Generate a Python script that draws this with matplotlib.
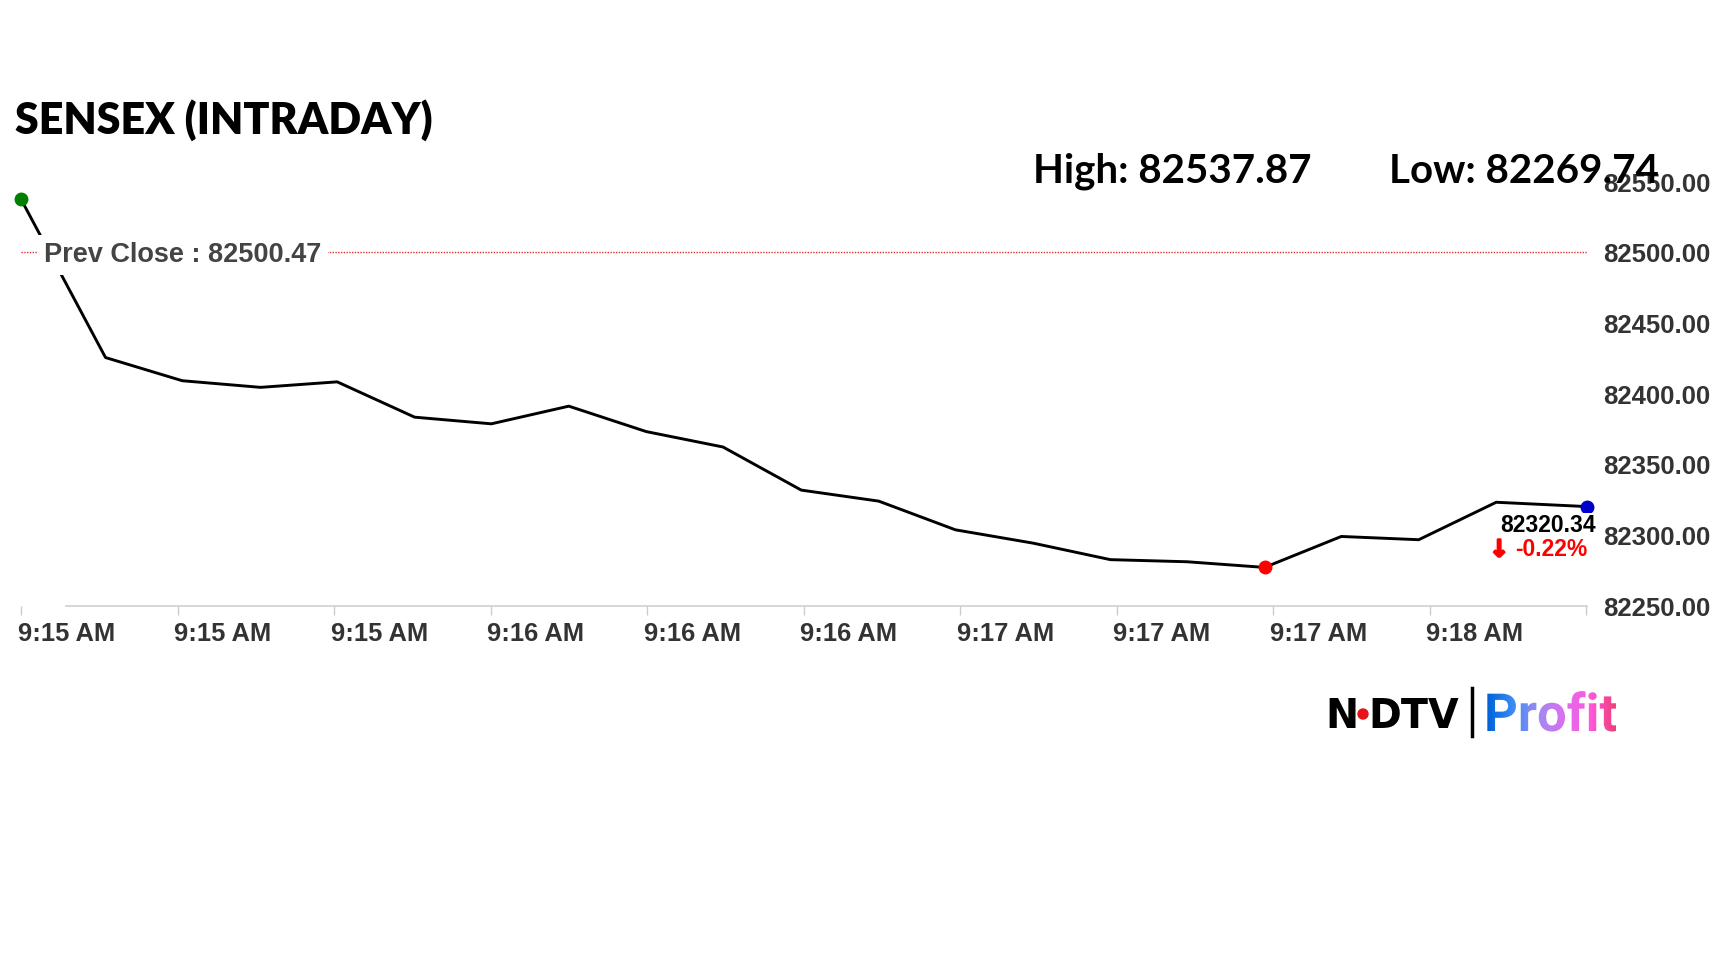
import numpy as np
import matplotlib
matplotlib.use('Agg')
import matplotlib.pyplot as plt
import matplotlib.transforms as mtransforms
import matplotlib.patheffects as pe
from matplotlib.textpath import TextPath
from matplotlib.patches import PathPatch, Circle
from matplotlib.font_manager import FontProperties
from matplotlib.colors import LinearSegmentedColormap

plt.rcParams['font.family'] = ['Liberation Sans', 'DejaVu Sans']

# seconds after 9:15:00 AM, and index level
secs = [0, 10.8, 20.6, 30.6, 40.4, 50.3, 60.1, 70.0, 79.9, 89.7, 99.7,
        109.6, 119.4, 129.3, 139.2, 149.0, 158.9, 168.7, 178.6, 188.5, 200.1]
values = [82537.87, 82425.8, 82409.4, 82404.7, 82408.6, 82383.6, 82378.9,
          82391.4, 82373.4, 82362.5, 82332.0, 82324.2, 82303.9, 82294.5,
          82282.8, 82281.3, 82277.3, 82299.2, 82296.9, 82323.4, 82320.34]
prev_close = 82500.47
day_high = 82537.87
day_low = 82269.74

tick_secs = [0, 20, 40, 60, 80, 100, 120, 140, 160, 180, 200]
tick_labels = ['9:15 AM', '9:15 AM', '9:15 AM', '9:16 AM', '9:16 AM', '9:16 AM',
               '9:17 AM', '9:17 AM', '9:17 AM', '9:18 AM', '']
y_ticks = [82250, 82300, 82350, 82400, 82450, 82500, 82550]

W, H = 1728, 972
fig = plt.figure(figsize=(W / 100, H / 100), dpi=100)
ax = fig.add_axes([21 / W, 1 - 606 / H, 1566 / W, 424 / H])

ax.plot(secs, values, color='black', lw=2.1, zorder=3)
ax.axhline(prev_close, color='#e03030', lw=1, linestyle=(0, (1, 1)), zorder=2)
blend = mtransforms.blended_transform_factory(ax.transAxes, ax.transData)
ax.annotate(f'Prev Close : {prev_close:.2f}', xy=(0.0145, prev_close),
            xycoords=blend, xytext=(0, -3), textcoords='offset pixels',
            fontsize=19.5, fontweight='bold', color='#444444', ha='left', va='center',
            bbox=dict(facecolor='white', edgecolor='none', pad=5), zorder=4)

imin = int(np.argmin(values))
ax.plot(secs[0], values[0], 'o', color='#008000', ms=9, zorder=5, clip_on=False)
ax.plot(secs[imin], values[imin], 'o', color='#ff0000', ms=9, zorder=5, clip_on=False)
ax.plot(secs[-1], values[-1], 'o', color='#0000cc', ms=9, zorder=5, clip_on=False)

pct = (values[-1] - prev_close) / prev_close * 100
ax.annotate(f'{values[-1]:.2f}', xy=(secs[-1], values[-1]), xytext=(9, -19),
            textcoords='offset pixels', ha='right', va='center', fontsize=16.5,
            fontweight='bold', color='black', annotation_clip=False, zorder=6,
            bbox=dict(facecolor='white', edgecolor='none', pad=1))
ax.annotate(f'{pct:.2f}%', xy=(secs[-1], values[-1]), xytext=(0, -43),
            textcoords='offset pixels', ha='right', va='center', fontsize=16.5,
            fontweight='bold', color='#ff0000', annotation_clip=False, zorder=6)
ax.annotate('\u2193', xy=(secs[-1], values[-1]), xytext=(-78, -43),
            textcoords='offset pixels', ha='right', va='center', fontsize=17,
            family='DejaVu Sans', fontweight='bold', color='#ff0000',
            annotation_clip=False, zorder=6,
            path_effects=[pe.withStroke(linewidth=1.6, foreground='#ff0000')])

ax.set_xlim(secs[0], secs[-1])
ax.set_ylim(82250, 82550)
for s in ax.spines.values():
    s.set_visible(False)
ax.axhline(82250, xmin=0.029, color='#d0d0d0', lw=1.2, clip_on=False, zorder=1)

ax.set_xticks(tick_secs, tick_labels)
ax.tick_params(axis='x', length=6.5, width=1, color='#cccccc', labelsize=18.4,
               labelcolor='#333333', pad=5)
shift = mtransforms.ScaledTranslation(-0.035, 0, fig.dpi_scale_trans)
for lab in ax.get_xticklabels():
    lab.set_fontweight('bold')
    lab.set_ha('left')
    lab.set_transform(lab.get_transform() + shift)

ax.yaxis.tick_right()
ax.set_yticks(y_ticks, [f'{v:.2f}' for v in y_ticks])
ax.tick_params(axis='y', length=0, labelsize=18.5, labelcolor='#333333', pad=11.5)
for lab in ax.get_yticklabels():
    lab.set_fontweight('bold')

# overlay in pixel coords for headings and logo
ov = fig.add_axes([0, 0, 1, 1], zorder=10)
ov.patch.set_alpha(0)
ov.axis('off')

ov.text(15, H - 134, 'SENSEX (INTRADAY)', family='Lato', weight='heavy',
        fontsize=31, ha='left', va='baseline', color='black')
ov.text(1033, H - 183, f'High: {day_high:.2f}', family='Lato', weight='bold',
        fontsize=29, ha='left', va='baseline', color='black')
ov.text(1389, H - 183, f'Low: {day_low:.2f}', family='Lato', weight='bold',
        fontsize=29, ha='left', va='baseline', color='black')

# NDTV | Profit logo
ov.text(1325, H - 728, 'N', family='DejaVu Sans', weight='bold', fontsize=28.5,
        ha='left', va='baseline', color='black')
ov.add_patch(Circle((1363, H - 714), 5, color='#e8121a', zorder=12))
ov.text(1368, H - 728, 'DTV', family='DejaVu Sans', weight='bold', fontsize=28.5,
        ha='left', va='baseline', color='black')
ov.plot([1472, 1472], [H - 688, H - 736], color='black', lw=2.5)

tp = TextPath((1484, H - 731), 'Profit', size=52.5,
              prop=FontProperties(family='Roboto', weight='bold'))
patch = PathPatch(tp, facecolor='none', edgecolor='none')
ov.add_patch(patch)
bb = tp.get_extents()
cmap = LinearSegmentedColormap.from_list(
    'profit', ['#0062d8', '#3a8cf2', '#a08af2', '#dc6ef0', '#ff58dc', '#ee3f78'])
img = ov.imshow(np.linspace(0, 1, 256).reshape(1, -1), cmap=cmap,
                extent=[bb.x0, bb.x1, bb.y0, bb.y1], aspect='auto', zorder=11)
img.set_clip_path(patch)

ov.set_xlim(0, W)
ov.set_ylim(0, H)

fig.savefig('out.png', dpi=100)
